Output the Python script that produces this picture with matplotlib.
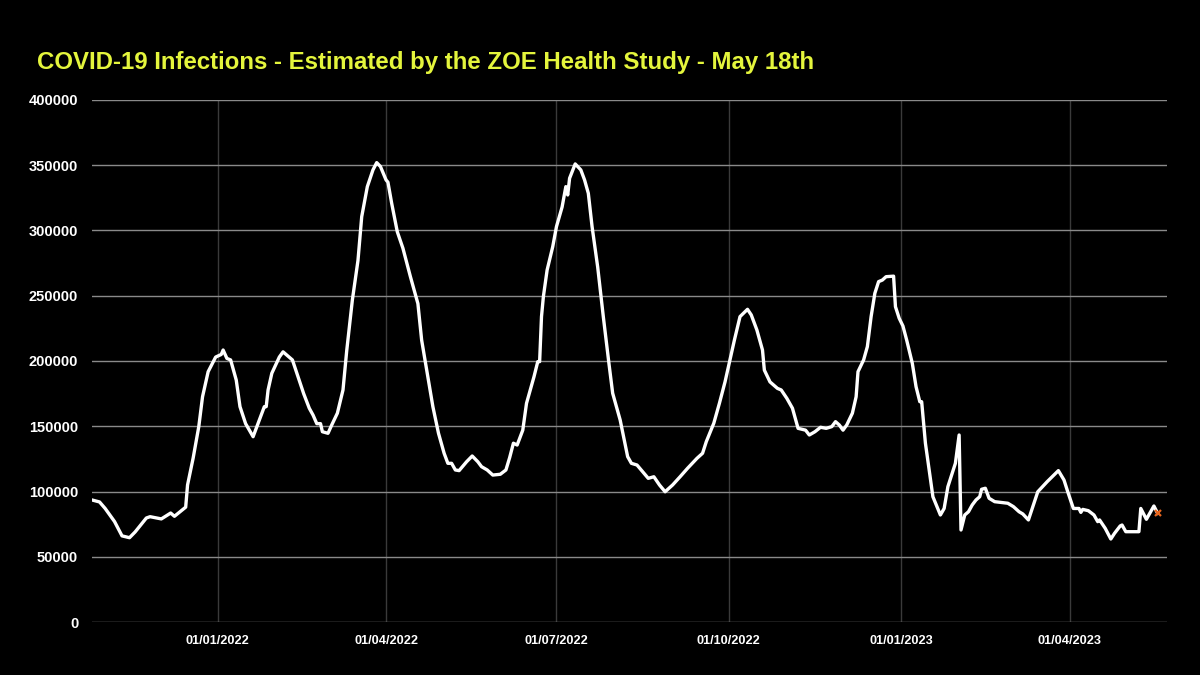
import matplotlib
matplotlib.use("Agg")
import matplotlib.pyplot as plt
import matplotlib.dates as mdates
import numpy as np
from matplotlib import font_manager

# Days since 2022-01-01 and estimated infections
days = [-67, -63, -60, -55, -51, -47, -44, -38, -36, -30, -25, -23, -20, -17, -16, -13, -10, -8, -5, -1,
        2, 3, 5, 7, 10, 12, 15, 19, 21, 25, 26, 27, 29, 33, 35, 40, 43, 46, 49, 51, 53, 55, 56, 59, 61,
        64, 67, 69, 72, 75, 77, 80, 83, 85, 87, 90, 91, 93, 96, 99, 103, 107, 109, 112, 115, 118, 121,
        123, 125, 127, 129, 133, 136, 139, 141, 144, 147, 151, 154, 156, 158, 160, 163, 165, 169, 171,
        172, 173, 174, 176, 179, 181, 184, 186, 187, 188, 191, 194, 196, 198, 200, 203, 206, 209, 211,
        215, 219, 221, 224, 227, 230, 233, 236, 239, 243, 247, 251, 256, 259, 261, 265, 268, 271, 274,
        276, 279, 283, 285, 288, 291, 292, 295, 299, 301, 304, 307, 310, 314, 316, 319, 322, 325, 328,
        330, 332, 334, 336, 339, 341, 342, 345, 347, 349, 351, 353, 355, 357, 361, 362, 364, 366, 368,
        371, 373, 375, 376, 378, 380, 382, 386, 388, 390, 394, 396, 397, 399, 401, 403, 405, 407, 408,
        410, 412, 415, 418, 422, 425, 428, 430, 433, 436, 438, 443, 449, 452, 454, 457, 460, 461, 462,
        465, 468, 470, 471, 474, 477, 479, 482, 483, 485, 492, 493, 496, 500, 502]

infections = [93500, 92000, 87000, 77000, 66000, 64600, 69000, 79700, 80700, 79000, 83500, 81000, 84500,
              88000, 105000, 125700, 149700, 172600, 191800, 203000,
              205000, 208400, 202000, 200800, 185400, 165000, 152000, 142000, 149700, 165000, 165000,
              177800, 190600, 203000, 207000, 200800, 188000, 175000, 163800, 158600, 152000, 152000,
              145800, 144600, 151000, 160000, 177800, 208000, 246700, 277000, 310600, 333600, 346400,
              352000, 349000, 338700, 337000, 320800, 299000, 286400, 264600, 244000, 216000, 190600,
              165000, 144600, 129300, 121600, 121600, 116500, 116000, 122800, 127200, 122800, 119000,
              116500, 112600, 113200, 116500, 126000, 137000, 135600, 147000, 167600, 188000, 199500,
              199500, 234000, 249300, 269700, 287600, 303000, 318000, 333600, 327200, 340000, 351000,
              346400, 338700, 328500, 303000, 272000, 234000, 198200, 175300, 154800, 126700, 121600,
              120300, 115200, 110100, 111300, 105000, 99800, 105000, 111300, 117800, 125400, 129300,
              138200, 152300, 167600, 184000, 203300, 216000, 234000, 239600, 235300, 223800, 208400,
              193000, 184000, 179000, 177800, 171400, 163800, 148400, 147000, 143300, 145800, 149200,
              148400, 149700, 153500, 151000, 147000, 151000, 160000, 172600, 191800, 200800, 211000,
              234000, 251900, 260800, 262000, 264600, 265000, 241600, 232700, 226800, 216000, 198200,
              180300, 168800, 168800, 137000, 116500, 96000, 82000, 87000, 103700, 121600, 143300,
              70500, 82000, 84500, 89700, 93500, 96000, 101700, 102500, 94800, 92200, 91700, 91000,
              88400, 84500, 82800, 78200, 91000, 99800, 107500, 116000, 108800, 99800, 87000, 87000,
              84000, 86300, 85300, 82000, 76900, 78200, 71800, 63600, 68000, 73600, 74300, 69200,
              69200, 87000, 78700, 88900, 83300]

y_ticks = [0, 50000, 100000, 150000, 200000, 250000, 300000, 350000, 400000]
x_tick_dates = ["2022-01-01", "2022-04-01", "2022-07-01", "2022-10-01", "2023-01-01", "2023-04-01"]

title = "COVID-19 Infections - Estimated by the ZOE Health Study - May 18th"

base = np.datetime64("2022-01-01")
dates = base + np.array(days).astype("timedelta64[D]")
dates = dates.astype("datetime64[ms]").astype(object)

avail = {f.name for f in font_manager.fontManager.ttflist}
narrow = "Liberation Sans Narrow" in avail
title_font = "Liberation Sans Narrow" if narrow else "Liberation Sans"
tick_font = "Liberation Sans"

fig = plt.figure(figsize=(12, 6.75), dpi=100, facecolor="black")
ax = fig.add_axes([0.0767, 0.0785, 0.8958, 0.7734], facecolor="black")

ax.plot(dates, infections, color="white", lw=2.4, solid_joinstyle="round", zorder=3)
ax.plot(dates[-1], infections[-1], marker="x", color="#e8661e", ms=5, mew=1.6, zorder=4)

ax.set_ylim(0, 400000)
ax.set_xlim(np.datetime64("2021-10-26"), np.datetime64("2023-05-23"))
ax.set_yticks(y_ticks)
ax.set_yticklabels([str(v) for v in y_ticks])
ax.set_xticks([np.datetime64(d) for d in x_tick_dates])
ax.xaxis.set_major_formatter(mdates.DateFormatter("%d/%m/%Y"))

ax.grid(axis="y", color="#8a8a8a", lw=1.0)
ax.grid(axis="x", color="#3a3a3a", lw=1.0)
ax.set_axisbelow(True)
for s in ax.spines.values():
    s.set_visible(False)
ax.tick_params(length=0, colors="white")
for lbl in ax.get_yticklabels():
    lbl.set_fontfamily(tick_font)
    lbl.set_fontweight("bold")
    lbl.set_fontsize(10.5)
for lbl in ax.get_xticklabels():
    lbl.set_fontfamily(title_font)
    lbl.set_fontweight("bold")
    lbl.set_fontsize(11 if narrow else 9.2)
ax.tick_params(axis="y", pad=10)
ax.tick_params(axis="x", pad=9)

fig.text(0.031, 0.908, title, color="#e4f53c", fontsize=18.5 if narrow else 17.3, fontweight="bold",
         family=[title_font, "DejaVu Sans"], va="center", ha="left")

fig.savefig("out.png", dpi=100, facecolor="black")
